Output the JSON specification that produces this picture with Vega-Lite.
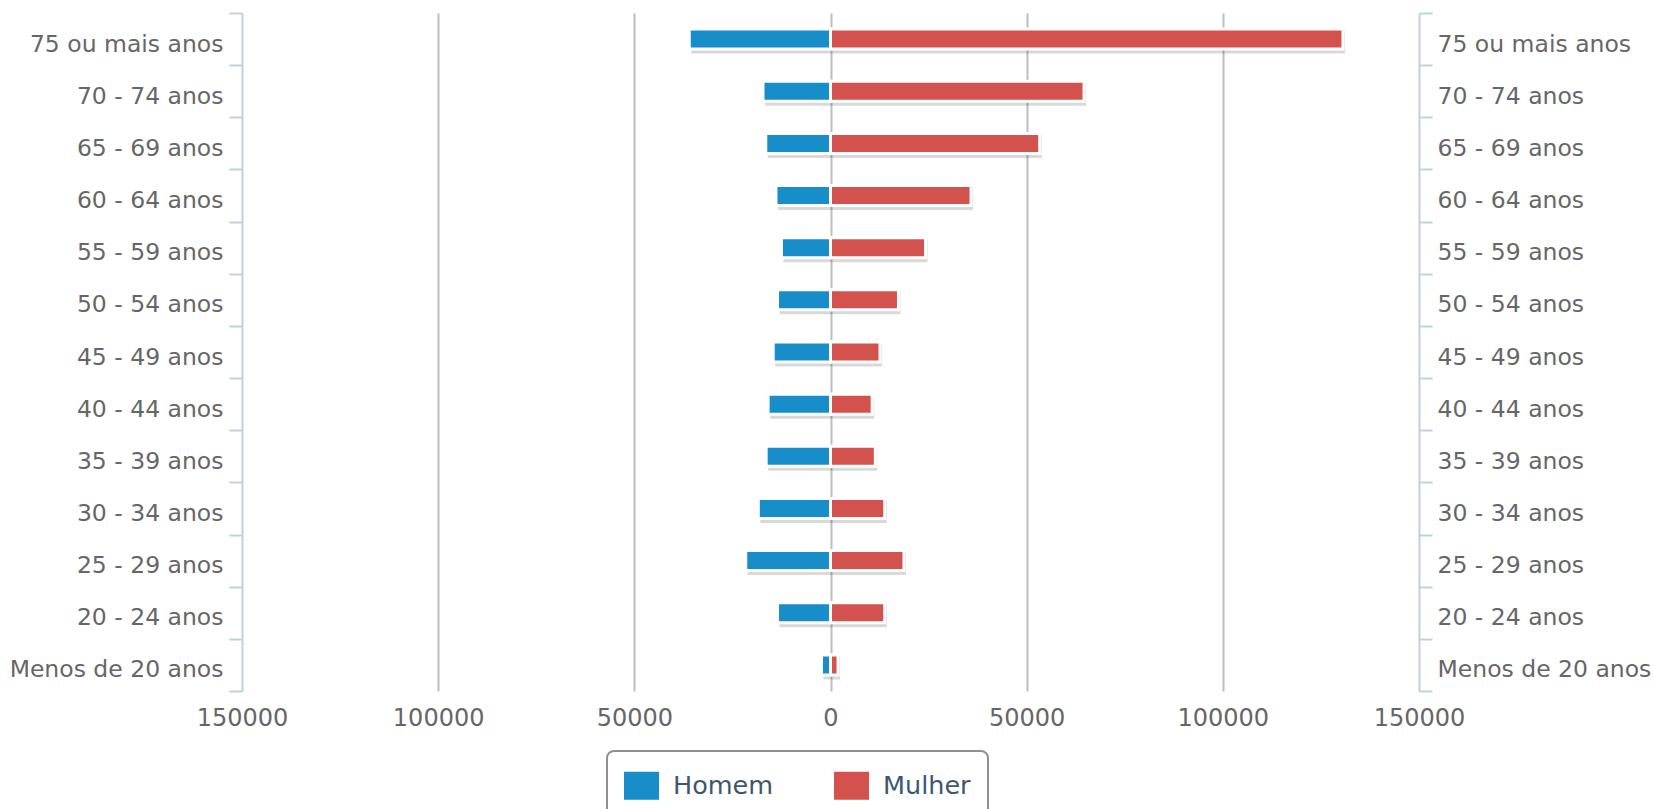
{
  "$schema": "https://vega.github.io/schema/vega-lite/v6.json",
  "autosize": {"type": "none"},
  "padding": {"left": 242, "top": 13, "right": 235, "bottom": 118},
  "width": 1177,
  "height": 678,
  "background": "white",
  "data": {
    "values": [
      {"faixa": "75 ou mais anos", "sexo": "Homem", "valor": -36000},
      {"faixa": "75 ou mais anos", "sexo": "Mulher", "valor": 129600},
      {"faixa": "70 - 74 anos", "sexo": "Homem", "valor": -17200},
      {"faixa": "70 - 74 anos", "sexo": "Mulher", "valor": 63600},
      {"faixa": "65 - 69 anos", "sexo": "Homem", "valor": -16500},
      {"faixa": "65 - 69 anos", "sexo": "Mulher", "valor": 52300},
      {"faixa": "60 - 64 anos", "sexo": "Homem", "valor": -13900},
      {"faixa": "60 - 64 anos", "sexo": "Mulher", "valor": 34800},
      {"faixa": "55 - 59 anos", "sexo": "Homem", "valor": -12500},
      {"faixa": "55 - 59 anos", "sexo": "Mulher", "valor": 23200},
      {"faixa": "50 - 54 anos", "sexo": "Homem", "valor": -13500},
      {"faixa": "50 - 54 anos", "sexo": "Mulher", "valor": 16300},
      {"faixa": "45 - 49 anos", "sexo": "Homem", "valor": -14600},
      {"faixa": "45 - 49 anos", "sexo": "Mulher", "valor": 11600},
      {"faixa": "40 - 44 anos", "sexo": "Homem", "valor": -15900},
      {"faixa": "40 - 44 anos", "sexo": "Mulher", "valor": 9600},
      {"faixa": "35 - 39 anos", "sexo": "Homem", "valor": -16400},
      {"faixa": "35 - 39 anos", "sexo": "Mulher", "valor": 10400},
      {"faixa": "30 - 34 anos", "sexo": "Homem", "valor": -18400},
      {"faixa": "30 - 34 anos", "sexo": "Mulher", "valor": 12800},
      {"faixa": "25 - 29 anos", "sexo": "Homem", "valor": -21600},
      {"faixa": "25 - 29 anos", "sexo": "Mulher", "valor": 17700},
      {"faixa": "20 - 24 anos", "sexo": "Homem", "valor": -13500},
      {"faixa": "20 - 24 anos", "sexo": "Mulher", "valor": 12800},
      {"faixa": "Menos de 20 anos", "sexo": "Homem", "valor": -2300},
      {"faixa": "Menos de 20 anos", "sexo": "Mulher", "valor": 900}
    ]
  },
  "encoding": {
    "x": {
      "field": "valor",
      "type": "quantitative",
      "stack": null,
      "scale": {"domain": [-150000, 150000], "nice": false, "zero": false},
      "axis": {
        "title": null,
        "values": [-150000, -100000, -50000, 0, 50000, 100000, 150000],
        "labelExpr": "format(abs(datum.value), 'd')",
        "labelFlush": false,
        "labelOverlap": false,
        "domain": false,
        "ticks": false,
        "grid": true,
        "gridColor": "#bdbdbd",
        "gridWidth": 2,
        "gridOpacity": {"condition": {"test": "abs(datum.value) >= 150000", "value": 0}, "value": 1},
        "labelFont": "DejaVu Sans",
        "labelFontSize": 24,
        "labelColor": "#666666",
        "labelPadding": 15,
        "labelBaseline": "top"
      }
    }
  },
  "layer": [
    {
      "mark": {
        "type": "bar",
        "size": 23,
        "color": "#000000",
        "opacity": 0.15,
        "xOffset": {"expr": "datum.sexo == 'Mulher' ? 6 : 2"},
        "yOffset": 3
      },
      "encoding": {
        "y": {
          "field": "faixa",
          "type": "nominal",
          "sort": ["75 ou mais anos", "70 - 74 anos", "65 - 69 anos", "60 - 64 anos", "55 - 59 anos", "50 - 54 anos", "45 - 49 anos", "40 - 44 anos", "35 - 39 anos", "30 - 34 anos", "25 - 29 anos", "20 - 24 anos", "Menos de 20 anos"],
          "scale": {"paddingInner": 0, "paddingOuter": 0},
          "axis": {
            "orient": "left",
            "title": null,
            "domainColor": "#c0d0e0",
            "domainWidth": 2,
            "tickColor": "#c0d0e0",
            "tickWidth": 2,
            "tickSize": 13,
            "tickBand": "extent",
            "labelPadding": 6,
            "labelOffset": 5,
            "labelLimit": 400,
            "labelFont": "DejaVu Sans",
            "labelFontSize": 23.5,
            "labelColor": "#666666"
          }
        }
      }
    },
    {
      "mark": {
        "type": "bar",
        "size": 20,
        "stroke": "white",
        "strokeWidth": 3,
        "xOffset": {"expr": "datum.sexo == 'Mulher' ? 4 : 0"}
      },
      "encoding": {
        "y": {
          "field": "faixa",
          "type": "nominal",
          "sort": ["75 ou mais anos", "70 - 74 anos", "65 - 69 anos", "60 - 64 anos", "55 - 59 anos", "50 - 54 anos", "45 - 49 anos", "40 - 44 anos", "35 - 39 anos", "30 - 34 anos", "25 - 29 anos", "20 - 24 anos", "Menos de 20 anos"],
          "scale": {"paddingInner": 0, "paddingOuter": 0},
          "axis": {
            "orient": "right",
            "title": null,
            "domainColor": "#c0d0e0",
            "domainWidth": 2,
            "tickColor": "#c0d0e0",
            "tickWidth": 2,
            "tickSize": 13,
            "tickBand": "extent",
            "labelPadding": 5,
            "labelOffset": 5,
            "labelLimit": 400,
            "labelFont": "DejaVu Sans",
            "labelFontSize": 23.5,
            "labelColor": "#666666"
          }
        },
        "color": {
          "field": "sexo",
          "type": "nominal",
          "scale": {"domain": ["Homem", "Mulher"], "range": ["#178dc9", "#d4524e"]},
          "legend": {
            "title": null,
            "orient": "none",
            "legendX": 365,
            "legendY": 738,
            "direction": "horizontal",
            "symbolType": "M-1,-0.8H1V0.8H-1Z",
            "symbolSize": 1225,
            "symbolStrokeWidth": 0,
            "symbolOpacity": 1,
            "labelFont": "DejaVu Sans",
            "labelFontSize": 25.5,
            "labelColor": "#3e576f",
            "labelOffset": 14,
            "columnPadding": 60,
            "padding": 17,
            "strokeColor": "#909090",
            "cornerRadius": 7
          }
        }
      }
    }
  ],
  "resolve": {"axis": {"y": "independent"}},
  "config": {
    "view": {"stroke": null},
    "legend": {"strokeWidth": 2}
  }
}
